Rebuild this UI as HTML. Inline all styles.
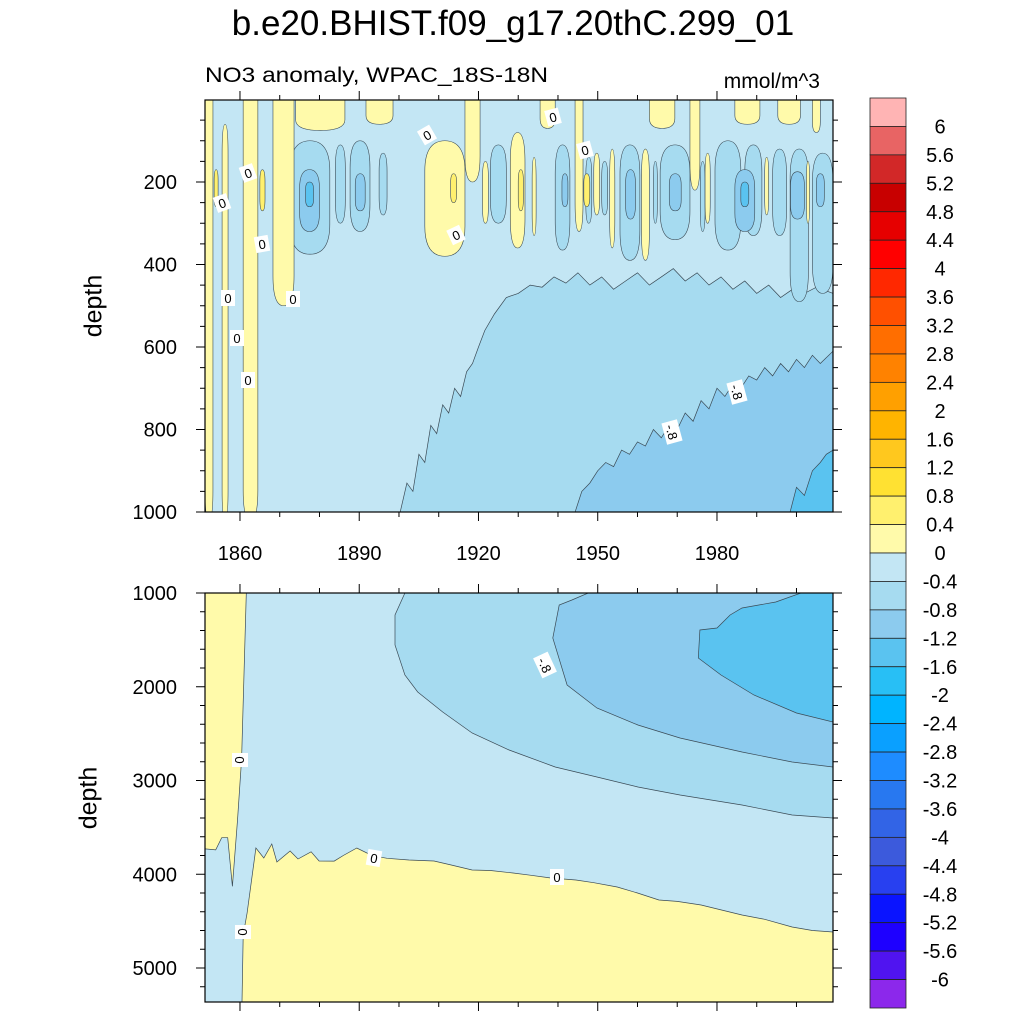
<!DOCTYPE html>
<html><head><meta charset="utf-8"><style>
html,body{margin:0;padding:0;background:#fff;}
svg{display:block;font-family:"Liberation Sans",sans-serif;}
</style></head><body>
<svg id="chart" width="1024" height="1024" viewBox="0 0 1024 1024" xmlns="http://www.w3.org/2000/svg">
<defs>
<clipPath id="clipTop"><rect x="205" y="100" width="628" height="412"/></clipPath>
<clipPath id="clipBot"><rect x="205" y="593" width="628" height="409"/></clipPath>
</defs>
<text x="513" y="35" font-size="35" text-anchor="middle">b.e20.BHIST.f09_g17.20thC.299_01</text>
<text x="205" y="82" font-size="21" textLength="343" lengthAdjust="spacingAndGlyphs">NO3 anomaly, WPAC_18S-18N</text>
<text x="820" y="88" font-size="21" text-anchor="end">mmol/m^3</text>
<text x="95" y="306" font-size="25" text-anchor="middle" transform="rotate(-90 95 306)" dominant-baseline="middle">depth</text>
<text x="90" y="798" font-size="25" text-anchor="middle" transform="rotate(-90 90 798)" dominant-baseline="middle">depth</text>
<g id="topPanel"></g>
<g id="botPanel"></g>
<g id="colorbar"></g>
</svg>
<script>
// ---- colorbar data ----
const cbColors = ["#ffb4b4","#e86464","#d22828","#c80000","#e60000","#ff0000","#ff2800","#ff5000","#ff6e00","#ff8200","#ffa000","#ffb400","#ffc81e","#ffe132","#fff06e","#fffaaa","#c3e6f4","#a6dbf0","#8ccbee","#5ac3f0","#28bff5","#00b4ff","#0aa0ff","#1e8cff","#2878f0","#3264e6","#3c5adc","#2840f0","#0a14ff","#1e00ff","#5014f0","#8c28eb"];
const cbLabels = ["6","5.6","5.2","4.8","4.4","4","3.6","3.2","2.8","2.4","2","1.6","1.2","0.8","0.4","0","-0.4","-0.8","-1.2","-1.6","-2","-2.4","-2.8","-3.2","-3.6","-4","-4.4","-4.8","-5.2","-5.6","-6"];
// ---- axis data ----
const xTickYears = [1860,1890,1920,1950,1980];
const topDepthTicks = [200,400,600,800,1000];
const botDepthTicks = [1000,2000,3000,4000,5000];
// ---- top panel (0-1000 m) contour data ----
const topM04Years = [1900.3,1902,1903.5,1905,1906.5,1908,1909.5,1911,1912.5,1914,1915.5,1917,1918.5,1920,1921.6,1924,1927,1930,1933,1936,1939,1942,1945,1948,1951,1954,1957,1960,1963,1966,1969,1972,1975,1978,1981,1984,1987,1990,1993,1996,1999,2002,2005,2009.2];
const topM04Depths = [1000,930,950,860,880,790,810,740,760,700,720,660,640,600,560,520,480,470,450,455,430,445,420,450,430,460,440,420,450,430,410,440,420,450,430,460,440,470,450,480,460,470,455,470];
const topM08Years = [1944.3,1946,1948,1950,1952,1954,1956,1958,1960,1962,1964,1966,1968,1970,1972,1974,1976,1978,1980,1982,1984,1986,1988,1990,1992,1994,1996,1998,2000,2002,2004,2006,2009.2];
const topM08Depths = [1000,950,930,900,880,890,850,860,830,840,800,820,790,800,760,780,730,750,700,720,690,700,670,680,650,670,640,660,630,650,620,640,610];
const topM12Years = [1998.4,2000,2002,2004,2006,2007.5,2009.2];
const topM12Depths = [1000,940,960,900,880,860,850];
// yellow (0..0.4) streaks: [yearStart, yearEnd, depthTop, depthBottom]
const topYellow = [[1851.2,1853.2,0,1000],[1855.5,1857,60,1000],[1860.8,1864.5,0,1000],[1868.3,1873.6,0,500],[1874,1886.4,0,75],[1891.7,1898.5,0,60],[1906.5,1916.6,100,380],[1916.6,1920.4,0,200],[1928,1931.7,80,360],[1935.5,1939.3,0,70],[1944.3,1946.3,0,320],[1953,1954.3,120,360],[1961,1963,120,390],[1963,1969.4,0,70],[1973.2,1975.7,0,220],[1984.5,1990.8,0,60],[1995.3,2001,0,60],[2004,2006,0,80],[1921,1922.5,150,300],[1949,1950.5,130,280],[1977,1978.3,130,300],[1933.5,1934.5,140,330],[1992,1993,140,280],[2002.5,2003.3,150,300]];
// -0.4..-0.8 blobs
const topBlue1 = [[1872.6,1882.6,100,375],[1884,1886.5,110,300],[1887.7,1892.7,100,320],[1895,1897,130,280],[1923,1927,110,300],[1939.3,1943,110,365],[1955.6,1960.6,110,390],[1965.7,1973.2,110,340],[1979.5,1986,100,365],[1987,1991.3,110,330],[1994,1997.5,120,330],[1998.4,2003,120,490],[2004,2009.2,130,470],[1947,1948.5,140,300],[1951,1952.5,150,280],[1964,1965,150,300],[1975.8,1977,150,320]];
const topBlue2 = [[1875,1880,170,320],[1889,1891.5,180,270],[1941,1942.5,180,260],[1957,1959.5,170,290],[1968,1971,180,270],[1984.5,1989.5,170,320],[1998.5,2002,175,290],[2005,2007,180,260]];
const topBlue3 = [[1876.5,1878.5,200,260],[1986,1988,200,260]];
const topYellow2 = [[1853.5,1854.5,170,260],[1865,1866.3,170,270],[1913,1914.5,180,250],[1930,1931.3,170,270],[1946.5,1948,180,260]];
// ---- bottom panel (1000-5363 m) contour data ----
const botLeftYears = [1851.2,1861.6,1860.4,1859.4,1858.1,1856.9,1855.4,1853.9,1851.2];
const botLeftDepths = [1000,1000,2770,3410,4130,3610,3610,3740,3730];
const botZeroYears = [1860.5,1860.8,1861.8,1864,1866,1868,1869.3,1872.6,1874.6,1877.9,1879.9,1883.7,1886,1889.4,1893.2,1897,1902.5,1908.8,1913,1918.4,1923,1928.7,1933,1938.2,1944.5,1949,1954.9,1960,1965.4,1970,1976,1981,1986.3,1992,1998.9,2004,2009.2];
const botZeroDepths = [5363,4648,4413,3720,3827,3677,3869,3752,3837,3760,3859,3860,3800,3720,3800,3830,3848,3859,3900,3955,3960,3987,4010,4040,4061,4090,4136,4200,4275,4290,4328,4380,4435,4480,4563,4600,4616];
const botM04Years = [1901.5,1899,1899,1901.5,1904.7,1911,1918.4,1927.7,1939.3,1949.8,1960.1,1970.7,1986.3,1998.9,2009.2];
const botM04Depths = [1000,1235,1555,1875,2056,2269,2493,2675,2856,2963,3069,3155,3261,3368,3400];
const botM08Years = [1947.6,1943.5,1940.3,1938.7,1942.3,1949.8,1960.1,1970.7,1986.3,1998.9,2009.2];
const botM08Depths = [1000,1075,1128,1480,1981,2227,2408,2547,2696,2803,2856];
const botM12Years = [2001.1,1994.8,1986.3,1983.3,1980,1975.7,1975.3,1981,1989.3,2000,2009.2];
const botM12Depths = [1000,1096,1160,1235,1373,1395,1693,1875,2088,2280,2376];

const NS = "http://www.w3.org/2000/svg";
const X0 = 205, X1 = 833;
function xS(yr){ return X0 + (yr - 1851.2) * 3.975; }
function yT(d){ return 99.5 + d * 0.4125; }
function yB(d){ return 593 + (d - 1000) * 0.09375; }
function mk(tag, attrs, parent){ const e = document.createElementNS(NS, tag); for (const k in attrs) e.setAttribute(k, attrs[k]); parent.appendChild(e); return e; }

const topG = document.getElementById('topPanel');
const botG = document.getElementById('botPanel');
const cbG = document.getElementById('colorbar');
const LINE = "#3a4a55";

// ---------- top panel ----------
const tg = mk('g', {'clip-path':'url(#clipTop)'}, topG);
let bg = mk('rect', {x:205,y:100,width:628,height:412,fill:'#c3e6f4'}, tg);



function regionBelow(ys, ds, yfn, bottomDepth, fill, name, parent){
  let pts = ys.map((y,i)=> xS(y).toFixed(1)+','+yfn(ds[i]).toFixed(1));
  pts.push((X1+5)+','+yfn(ds[ds.length-1]).toFixed(1));
  pts.push((X1+5)+','+(yfn(bottomDepth)+5).toFixed(1));
  pts.push(xS(ys[0]).toFixed(1)+','+(yfn(bottomDepth)+5).toFixed(1));
  const p = mk('polygon', {points:pts.join(' '), fill:fill, stroke:LINE, 'stroke-width':0.7}, parent);
  
  
}
function streak(s, fill, name, parent){
  const xa = xS(s[0]), xb = xS(s[1]), xm = (xa+xb)/2;
  const ya = s[2] <= 0 ? 95 : yT(s[2]);
  const yb = s[3] >= 1000 ? 520 : yT(s[3]);
  const r = Math.min((yb-ya)*0.3, 30);
  const d = s[2] <= 0
    ? `M${xa},${ya} L${xb},${ya} L${xb},${yb-r} Q${xb},${yb} ${xm},${yb} Q${xa},${yb} ${xa},${yb-r} Z`
    : `M${xm},${ya} Q${xb},${ya} ${xb},${ya+r} L${xb},${yb-r} Q${xb},${yb} ${xm},${yb} Q${xa},${yb} ${xa},${yb-r} L${xa},${ya+r} Q${xa},${ya} ${xm},${ya} Z`;
  const p = mk('path', {d:d, fill:fill, stroke:LINE, 'stroke-width':0.6}, parent);
  
  
}
regionBelow(topM04Years, topM04Depths, yT, 1000, '#a6dbf0', 'top-region-minus-0.4', tg);
regionBelow(topM08Years, topM08Depths, yT, 1000, '#8ccbee', 'top-region-minus-0.8', tg);
regionBelow(topM12Years, topM12Depths, yT, 1000, '#5ac3f0', 'top-region-minus-1.2', tg);
topBlue1.forEach(s => streak(s, '#a6dbf0', 'top-blob-minus-0.4', tg));
topBlue2.forEach(s => streak(s, '#8ccbee', 'top-blob-minus-0.8', tg));
topBlue3.forEach(s => streak(s, '#5ac3f0', 'top-blob-minus-1.2', tg));
topYellow.forEach(s => streak(s, '#fffaaa', 'top-streak-positive', tg));
topYellow2.forEach(s => streak(s, '#fff06e', 'top-streak-0.4', tg));

function clabel(x, y, txt, rot, parent, name){
  const g = mk('g', {transform:`translate(${x},${y}) rotate(${rot})`}, parent);
  
  
  const w = txt.length > 1 ? 22 : 14;
  mk('rect', {x:-w/2, y:-8, width:w, height:16, fill:'#fff'}, g);
  const t = mk('text', {x:0, y:5, 'font-size':13, 'text-anchor':'middle'}, g);
  t.textContent = txt;
}
[[222,203,-20],[248,173,-20],[228,298,0],[237,338,0],[248,380,0],[262,244,-10],[293,299,0],[427,135,-30],[456,235,-25],[553,117,-15],[585,150,-15]].forEach(l=>clabel(l[0],l[1],'0',l[2],topG,'top-contour-label'));
clabel(672,432,'-.8',75,topG,'top-contour-label');
clabel(737,392,'-.8',75,topG,'top-contour-label');

let fr = mk('rect', {x:205,y:100,width:628,height:412,fill:'none',stroke:'#000','stroke-width':1.2}, topG);



function xTicks(yTop, yBot){
  for (let yr = 1860; yr <= 2000; yr += 10){
    const x = xS(yr); if (x > X1) continue;
    const major = xTickYears.includes(yr);
    const L = major ? 9 : 5;
    mk('line', {x1:x,y1:yTop,x2:x,y2:yTop-L,stroke:'#000','stroke-width':1}, topG);
    mk('line', {x1:x,y1:yBot,x2:x,y2:yBot+L,stroke:'#000','stroke-width':1}, topG);
  }
}
xTicks(100, 512);
xTicks(593, 1002);
xTickYears.forEach(yr => {
  const t = mk('text', {x:xS(yr), y:560, 'font-size':20, 'text-anchor':'middle'}, topG);
  
  
  t.textContent = yr;
});
for (let d = 50; d <= 1000; d += 50){
  const y = yT(d); const major = topDepthTicks.includes(d); const L = major ? 9 : 5;
  mk('line', {x1:205,y1:y,x2:205-L,y2:y,stroke:'#000','stroke-width':1}, topG);
  mk('line', {x1:833,y1:y,x2:833+L,y2:y,stroke:'#000','stroke-width':1}, topG);
}
topDepthTicks.forEach(d => {
  const t = mk('text', {x:177, y:yT(d)+7, 'font-size':20, 'text-anchor':'end'}, topG);
  
  
  t.textContent = d;
});

// ---------- bottom panel ----------
const bgp = mk('g', {'clip-path':'url(#clipBot)'}, botG);
let bb = mk('rect', {x:205,y:593,width:628,height:409,fill:'#c3e6f4'}, bgp);


function poly(ys, ds, fill, name, extra){
  let pts = ys.map((y,i)=> xS(y).toFixed(1)+','+yB(ds[i]).toFixed(1));
  if (extra) pts = pts.concat(extra);
  const p = mk('polygon', {points:pts.join(' '), fill:fill, stroke:LINE, 'stroke-width':0.7}, bgp);
  
  
}
poly(botM04Years, botM04Depths, '#a6dbf0', 'bottom-region-minus-0.4', ['840,'+yB(botM04Depths[botM04Depths.length-1]).toFixed(1), '840,585', xS(botM04Years[0]).toFixed(1)+',585']);
poly(botM08Years, botM08Depths, '#8ccbee', 'bottom-region-minus-0.8', ['840,'+yB(botM08Depths[botM08Depths.length-1]).toFixed(1), '840,585', xS(botM08Years[0]).toFixed(1)+',585']);
poly(botM12Years, botM12Depths, '#5ac3f0', 'bottom-region-minus-1.2', ['840,'+yB(botM12Depths[botM12Depths.length-1]).toFixed(1), '840,585', xS(botM12Years[0]).toFixed(1)+',585']);
poly(botZeroYears, botZeroDepths, '#fffaaa', 'bottom-region-positive-deep', ['840,'+yB(botZeroDepths[botZeroDepths.length-1]).toFixed(1), '840,1010', xS(botZeroYears[0]).toFixed(1)+',1010']);
poly(botLeftYears, botLeftDepths, '#fffaaa', 'bottom-region-positive-left', ['200,'+yB(3730).toFixed(1),'200,585','245,585']);
clabel(240,760,'0',90,botG,'bottom-contour-label');
clabel(243,932,'0',90,botG,'bottom-contour-label');
clabel(374,858,'0',10,botG,'bottom-contour-label');
clabel(557,877,'0',0,botG,'bottom-contour-label');
clabel(545,665,'-.8',65,botG,'bottom-contour-label');
let fb = mk('rect', {x:205,y:593,width:628,height:409,fill:'none',stroke:'#000','stroke-width':1.2}, botG);


for (let d = 1000; d <= 5300; d += 200){
  const y = yB(d); const major = botDepthTicks.includes(d); const L = major ? 9 : 5;
  mk('line', {x1:205,y1:y,x2:205-L,y2:y,stroke:'#000','stroke-width':1}, botG);
  mk('line', {x1:833,y1:y,x2:833+L,y2:y,stroke:'#000','stroke-width':1}, botG);
}
botDepthTicks.forEach(d => {
  const t = mk('text', {x:177, y:yB(d)+7, 'font-size':20, 'text-anchor':'end'}, botG);
  
  
  t.textContent = d;
});

// ---------- colorbar ----------
const cbTop = 98, cbH = 910 / cbColors.length;
cbColors.forEach((c,i) => {
  const r = mk('rect', {x:870, y:cbTop + i*cbH, width:36, height:cbH, fill:c, stroke:'#222', 'stroke-width':0.8}, cbG);
  
  
});
cbLabels.forEach((l,i) => {
  const t = mk('text', {x:940, y:cbTop + (i+1)*cbH + 7, 'font-size':20, 'text-anchor':'middle'}, cbG);
  
  
  t.textContent = l;
});
</script>
</body></html>
